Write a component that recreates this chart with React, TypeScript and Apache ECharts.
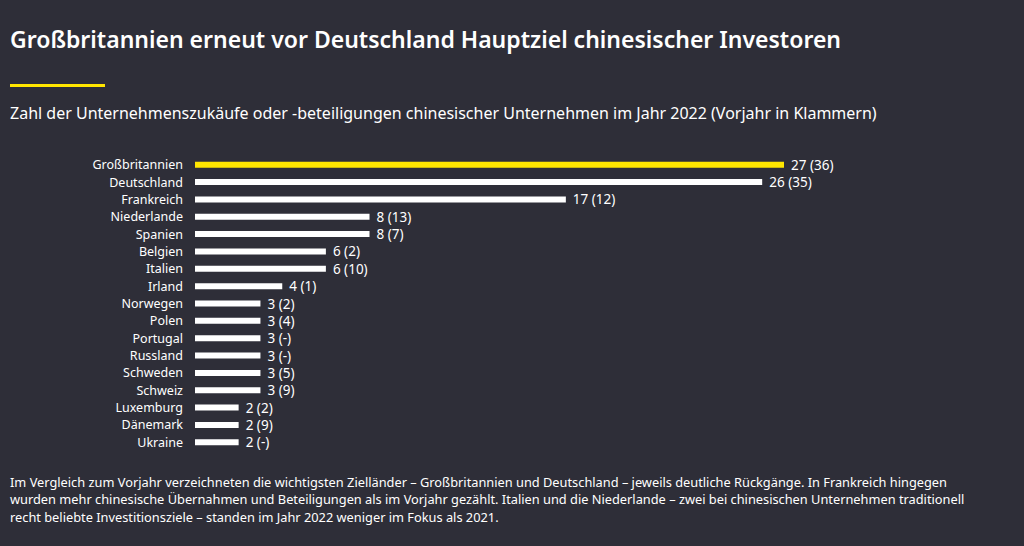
import React, { useEffect, useRef } from "react";
import * as echarts from "echarts";

const countries = [
  "Großbritannien", "Deutschland", "Frankreich", "Niederlande", "Spanien",
  "Belgien", "Italien", "Irland", "Norwegen", "Polen", "Portugal",
  "Russland", "Schweden", "Schweiz", "Luxemburg", "Dänemark", "Ukraine",
];
const deals2022 = [27, 26, 17, 8, 8, 6, 6, 4, 3, 3, 3, 3, 3, 3, 2, 2, 2];
const deals2021 = ["36", "35", "12", "13", "7", "2", "10", "1", "2", "4", "-", "-", "5", "9", "2", "9", "-"];

const titleText = "Großbritannien erneut vor Deutschland Hauptziel chinesischer Investoren";
const subtitleText =
  "Zahl der Unternehmenszukäufe oder -beteiligungen chinesischer Unternehmen im Jahr 2022 (Vorjahr in Klammern)";
const footerLines = [
  "Im Vergleich zum Vorjahr verzeichneten die wichtigsten Zielländer – Großbritannien und Deutschland – jeweils deutliche Rückgänge. In Frankreich hingegen",
  "wurden mehr chinesische Übernahmen und Beteiligungen als im Vorjahr gezählt. Italien und die Niederlande – zwei bei chinesischen Unternehmen traditionell",
  "recht beliebte Investitionsziele – standen im Jahr 2022 weniger im Fokus als 2021.",
];

const BG = "#2e2e38";
const YELLOW = "#ffe600";
const FONT = "'Noto Sans', 'Open Sans', sans-serif";

export default function App() {
  const ref = useRef<HTMLDivElement>(null);

  useEffect(() => {
    document.body.style.margin = "0";
    document.body.style.background = BG;
    if (!ref.current) return;
    const chart = echarts.init(ref.current, undefined, { renderer: "svg" });
    chart.setOption({
      animation: false,
      backgroundColor: BG,
      textStyle: { fontFamily: FONT },
      title: [
        {
          text: titleText,
          left: 10,
          top: 27,
          padding: 0,
          textStyle: { color: "#ffffff", fontSize: 23, fontWeight: 600, fontFamily: FONT },
        },
        {
          text: subtitleText,
          left: 10,
          top: 105,
          padding: 0,
          textStyle: { color: "#ffffff", fontSize: 16, fontWeight: 400, fontFamily: FONT },
        },
      ],
      graphic: [
        {
          type: "rect",
          shape: { x: 10, y: 84, width: 95, height: 3 },
          style: { fill: YELLOW },
        },
        ...footerLines.map((line, i) => ({
          type: "text",
          left: 10,
          top: 475 + i * 17.5,
          style: { text: line, fill: "#ffffff", font: `12.8px ${FONT}` },
        })),
      ],
      grid: { left: 195, right: 240, top: 156, bottom: 95, containLabel: false },
      xAxis: {
        type: "value",
        min: 0,
        max: 27,
        show: false,
      },
      yAxis: {
        type: "category",
        data: countries,
        inverse: true,
        axisLine: { show: false },
        axisTick: { show: false },
        axisLabel: { color: "#ffffff", fontSize: 12.5, margin: 12, fontFamily: FONT },
      },
      series: [
        {
          type: "bar",
          barWidth: 6,
          data: deals2022.map((v, i) => ({
            value: v,
            itemStyle: { color: i === 0 ? YELLOW : "#ffffff" },
          })),
          label: {
            show: true,
            position: "right",
            distance: 7,
            color: "#ffffff",
            fontSize: 13.5,
            fontFamily: FONT,
            formatter: (p: any) => `${p.value} (${deals2021[p.dataIndex]})`,
          },
        },
      ],
    });
    return () => chart.dispose();
  }, []);

  return <div ref={ref} style={{ width: 1024, height: 546 }} />;
}
